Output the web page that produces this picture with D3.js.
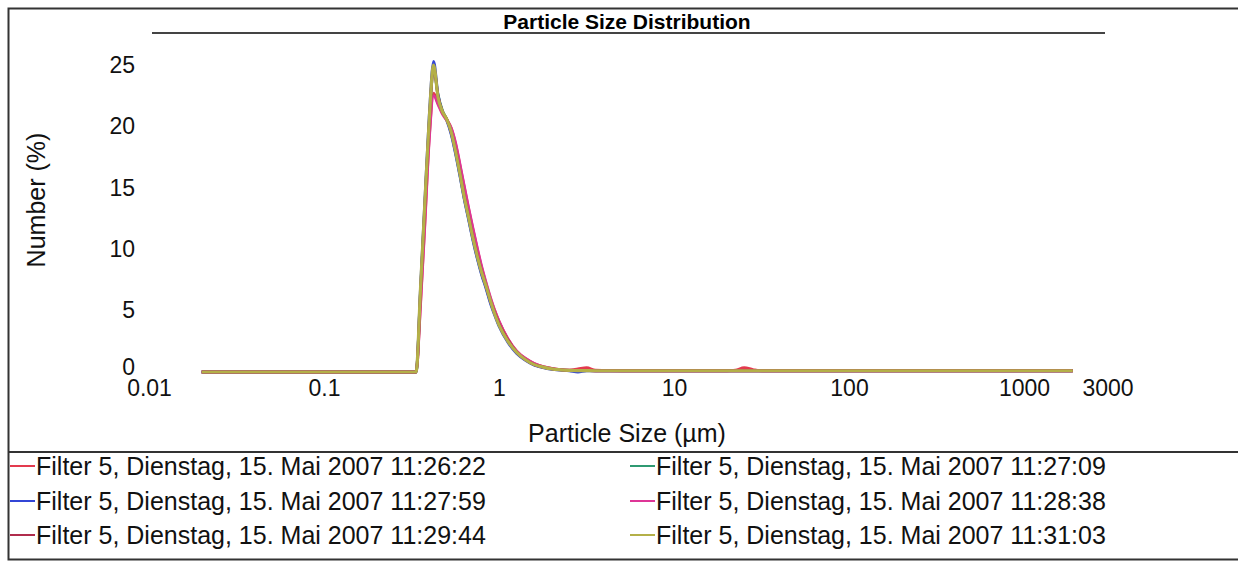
<!DOCTYPE html>
<html>
<head>
<meta charset="utf-8">
<script src="https://cdn.jsdelivr.net/npm/d3@7"></script>
<style>
  body { margin: 0; background: #fff; overflow: hidden; }
  svg { display: block; overflow: hidden; font-family: "Liberation Sans", Arial, sans-serif; }
</style>
</head>
<body>
<svg></svg>
<script>
// particle sizes (µm), shared by all runs
let sizes = [0.02, 0.1, 0.317, 0.336, 0.356, 0.377, 0.399, 0.423, 0.448, 0.475,
             0.502, 0.532, 0.564, 0.597, 0.632, 0.67, 0.71, 0.752, 0.796, 0.843,
             0.893, 0.946, 1.002, 1.125, 1.262, 1.416, 1.589, 1.783, 2.0, 2.244,
             2.518, 2.825, 3.17, 3.557, 5.024, 10.02, 20.0, 22.44, 25.18, 28.25,
             31.7, 100, 500, 1900];

// number (%) per run
let run112622 = [0, 0, 0, 0, 5.6, 12.2, 19.0, 22.7, 21.9, 21.1,
                 20.6, 19.9, 18.6, 16.9, 15.1, 13.3, 11.6, 10.0, 8.5, 7.2,
                 6.0, 5.0, 4.1, 2.7, 1.7, 1.1, 0.7, 0.45, 0.3, 0.2,
                 0.15, 0.25, 0.35, 0.15, 0.1, 0.1, 0.1, 0.15, 0.35, 0.2,
                 0.1, 0.1, 0.1, 0.1];
let run112709 = [0, 0, 0, 0, 6.6, 13.6, 20.3, 24.7, 22.6, 21.3,
                 20.6, 19.5, 17.9, 16.1, 14.2, 12.5, 10.8, 9.3, 8.0, 6.9,
                 5.7, 4.7, 3.8, 2.5, 1.6, 1.0, 0.6, 0.4, 0.25, 0.18,
                 0.14, 0.12, 0.11, 0.1, 0.1, 0.1, 0.1, 0.1, 0.1, 0.1,
                 0.1, 0.1, 0.1, 0.1];
let run112759 = [0, 0, 0, 0, 6.9, 14.0, 20.8, 25.3, 22.6, 21.2,
                 20.5, 19.4, 17.8, 16.0, 14.1, 12.4, 10.7, 9.2, 7.9, 6.8,
                 5.6, 4.6, 3.7, 2.4, 1.5, 0.95, 0.55, 0.35, 0.22, 0.15,
                 0.1, 0.0, 0.1, 0.1, 0.1, 0.1, 0.1, 0.1, 0.1, 0.1,
                 0.1, 0.1, 0.1, 0.1];
let run112838 = [0, 0, 0, 0, 5.4, 12.0, 18.8, 22.5, 21.8, 21.0,
                 20.5, 19.9, 18.7, 17.0, 15.2, 13.4, 11.7, 10.1, 8.6, 7.3,
                 6.1, 5.0, 4.1, 2.7, 1.7, 1.1, 0.7, 0.45, 0.3, 0.2,
                 0.15, 0.13, 0.12, 0.1, 0.1, 0.1, 0.1, 0.1, 0.1, 0.1,
                 0.1, 0.1, 0.1, 0.1];
let run112944 = [0, 0, 0, 0, 6.5, 13.5, 20.2, 24.8, 22.5, 21.2,
                 20.6, 19.6, 18.1, 16.3, 14.4, 12.7, 11.0, 9.5, 8.2, 7.0,
                 5.8, 4.8, 3.9, 2.6, 1.6, 1.0, 0.6, 0.4, 0.26, 0.18,
                 0.14, 0.12, 0.11, 0.1, 0.1, 0.1, 0.1, 0.1, 0.1, 0.1,
                 0.1, 0.1, 0.1, 0.1];
let run113103 = [0, 0, 0, 0, 6.8, 13.8, 20.5, 25.0, 22.4, 21.2,
                 20.6, 19.6, 18.0, 16.2, 14.3, 12.6, 10.9, 9.4, 8.1, 7.0,
                 5.8, 4.7, 3.8, 2.5, 1.6, 1.0, 0.6, 0.4, 0.25, 0.18,
                 0.14, 0.12, 0.11, 0.1, 0.1, 0.1, 0.1, 0.1, 0.1, 0.1,
                 0.1, 0.1, 0.1, 0.1];

let seriesNames = ["Filter 5, Dienstag, 15. Mai 2007 11:26:22",
                   "Filter 5, Dienstag, 15. Mai 2007 11:27:09",
                   "Filter 5, Dienstag, 15. Mai 2007 11:27:59",
                   "Filter 5, Dienstag, 15. Mai 2007 11:28:38",
                   "Filter 5, Dienstag, 15. Mai 2007 11:29:44",
                   "Filter 5, Dienstag, 15. Mai 2007 11:31:03"];
let seriesValues = [run112622, run112709, run112759, run112838, run112944, run113103];
let seriesColors = ["#e33a4e", "#2f9a72", "#3346d6", "#de3596", "#b02c4c", "#b4b048"];

let xTicks = [0.01, 0.1, 1, 10, 100, 1000, 3000];
let xTickLabels = ["0.01", "0.1", "1", "10", "100", "1000", "3000"];
let yTicks = [0, 5, 10, 15, 20, 25];

let width = 1238;
let height = 561;

let svg = d3.select("svg")
    .attr("width", width)
    .attr("height", height);

let xScale = d3.scaleLog()
    .domain([0.01, 3000])
    .range([149, 1107.5]);

let yScale = d3.scaleLinear()
    .domain([0, 25])
    .range([372, 65]);

// frame (open on the right, like the scan)
svg.append("path")
    .attr("d", "M1238,8.5 H8.5 V559.5 H1238")
    .attr("fill", "none")
    .attr("stroke", "#333")
    .attr("stroke-width", 2);

svg.append("line")
    .attr("x1", 8.5).attr("x2", 1238)
    .attr("y1", 452).attr("y2", 452)
    .attr("stroke", "#333")
    .attr("stroke-width", 2);

// title
svg.append("line")
    .attr("x1", 152).attr("x2", 1105)
    .attr("y1", 33).attr("y2", 33)
    .attr("stroke", "#444")
    .attr("stroke-width", 2);

svg.append("text")
    .attr("x", 627)
    .attr("y", 29)
    .attr("text-anchor", "middle")
    .style("font-size", "21px")
    .style("font-weight", "bold")
    .text("Particle Size Distribution");

// axes
let xAxis = d3.axisBottom(xScale)
    .tickValues(xTicks)
    .tickFormat((d, i) => xTickLabels[i])
    .tickSize(0)
    .tickPadding(8);

let yAxis = d3.axisLeft(yScale)
    .tickValues(yTicks)
    .tickSize(0)
    .tickPadding(5);

let gx = svg.append("g")
    .attr("transform", "translate(0,372)")
    .call(xAxis);

let gy = svg.append("g")
    .attr("transform", "translate(140,0)")
    .call(yAxis);

[gx, gy].forEach((g) => {
    g.select(".domain").remove();
    g.selectAll("text")
        .style("font-size", "23px")
        .style("font-family", "'Liberation Sans', Arial, sans-serif")
        .attr("fill", "#111");
});

gy.selectAll(".tick")
    .filter((d) => d === 0)
    .select("text")
    .attr("dy", "0.1em");

svg.append("text")
    .attr("transform", "translate(45,200)rotate(-90)")
    .attr("text-anchor", "middle")
    .style("font-size", "25px")
    .attr("fill", "#111")
    .text("Number (%)");

svg.append("text")
    .attr("x", 627)
    .attr("y", 442)
    .attr("text-anchor", "middle")
    .style("font-size", "25px")
    .attr("fill", "#111")
    .text("Particle Size (µm)");

// curves
let line = d3.line()
    .x((d) => xScale(d[0]))
    .y((d) => yScale(d[1]))
    .curve(d3.curveMonotoneX);

seriesValues.forEach((vals, i) => {
    let pts = sizes.map((s, j) => [s, vals[j]]);
    svg.append("path")
        .datum(pts)
        .attr("fill", "none")
        .attr("stroke", seriesColors[i])
        .attr("stroke-width", i === 5 ? 3.2 : 2.8)
        .attr("stroke-linejoin", "round")
        .attr("d", line);
});

// legend
let legendRows = [466, 501, 535];
seriesNames.forEach((name, i) => {
    let col = i % 2;
    let row = Math.floor(i / 2);
    let x0 = col === 0 ? 10 : 630;
    let y0 = legendRows[row];
    svg.append("line")
        .attr("x1", x0).attr("x2", x0 + 25)
        .attr("y1", y0).attr("y2", y0)
        .attr("stroke", seriesColors[i])
        .attr("stroke-width", 2);
    svg.append("text")
        .attr("x", x0 + 26)
        .attr("y", y0)
        .attr("dy", "0.35em")
        .style("font-size", "25px")
        .attr("fill", "#111")
        .text(name);
});
</script>
</body>
</html>
